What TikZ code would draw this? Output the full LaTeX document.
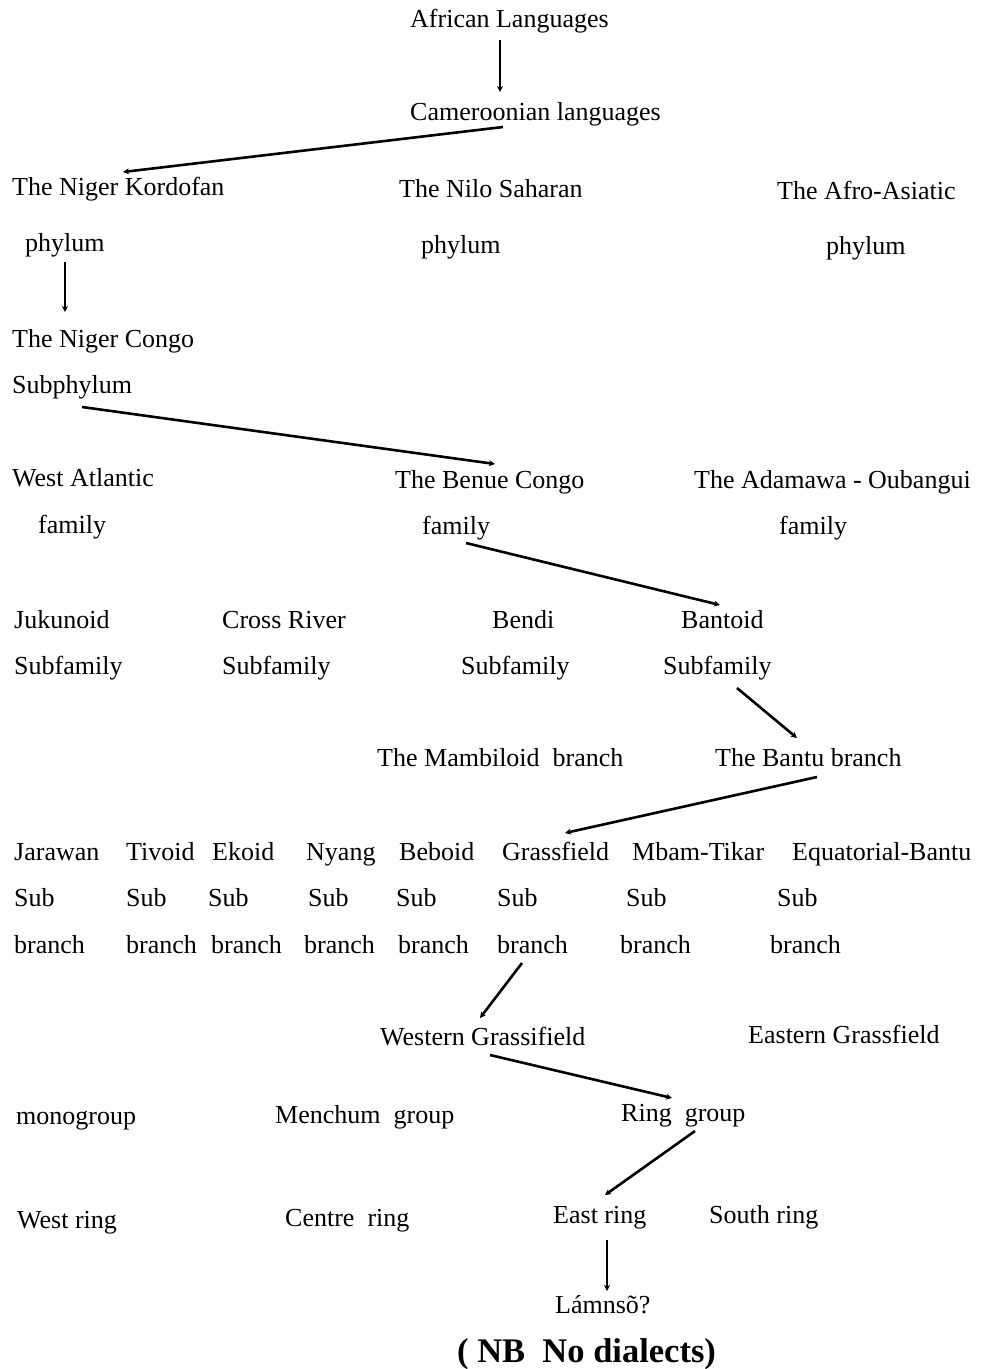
\documentclass[tikz,border=0pt]{standalone}
\usepackage{fontspec}
\setmainfont{Liberation Serif}
\usetikzlibrary{calc,arrows.meta}
\tikzset{
  lbl/.style={inner sep=0pt, anchor=base west, font=\fontsize{26bp}{30bp}\selectfont},
  nbstyle/.style={inner sep=0pt, anchor=base west, font=\fontsize{34.5bp}{40bp}\selectfont\bfseries},
  conn/.style={line width=2.6bp, -{Stealth[length=6bp,width=6bp]}}
}
\begin{document}
\begin{tikzpicture}[x=1bp,y=-1bp]
\useasboundingbox (0,0) rectangle (982,1369);
% level 1-2
\node[lbl] (afr) at (410,28) {African Languages};
\node[lbl] (cam) at (410,121) {Cameroonian languages};
% phyla
\node[lbl] (nk1) at (12,196) {The Niger Kordofan};
\node[lbl] (nk2) at (25,252) {phylum};
\node[lbl] (ns1) at (399,198) {The Nilo Saharan};
\node[lbl] (ns2) at (421,254) {phylum};
\node[lbl] (aa1) at (777,200) {The Afro-Asiatic};
\node[lbl] (aa2) at (826,255) {phylum};
% subphylum
\node[lbl] (nc1) at (12,347) {The Niger Congo};
\node[lbl] (nc2) at (12,393) {Subphylum};
% families
\node[lbl] (wa1) at (12,486) {West Atlantic};
\node[lbl] (wa2) at (38,533) {family};
\node[lbl] (bc1) at (395,488) {The Benue Congo};
\node[lbl] (bc2) at (422,534) {family};
\node[lbl] (ad1) at (694,488) {The Adamawa - Oubangui};
\node[lbl] (ad2) at (779,534) {family};
% subfamilies
\node[lbl] (ju1) at (14,628) {Jukunoid};
\node[lbl] (ju2) at (14,674) {Subfamily};
\node[lbl] (cr1) at (222,628) {Cross River};
\node[lbl] (cr2) at (222,674) {Subfamily};
\node[lbl] (be1) at (492,628) {Bendi};
\node[lbl] (be2) at (461,674) {Subfamily};
\node[lbl] (ba1) at (681,628) {Bantoid};
\node[lbl] (ba2) at (663,674) {Subfamily};
% branches
\node[lbl] (mam) at (377,766) {The Mambiloid\ \ branch};
\node[lbl] (bnt) at (715,766) {The Bantu branch};
% sub branches
\node[lbl] (r1) at (14,860) {Jarawan};
\node[lbl] (r2) at (126,860) {Tivoid};
\node[lbl] (r3) at (212,860) {Ekoid};
\node[lbl] (r4) at (306,860) {Nyang};
\node[lbl] (r5) at (399,860) {Beboid};
\node[lbl] (r6) at (502,860) {Grassfield};
\node[lbl] (r7) at (632,860) {Mbam-Tikar};
\node[lbl] (r8) at (792,860) {Equatorial-Bantu};
\node[lbl] (s1) at (14,906) {Sub};
\node[lbl] (s2) at (126,906) {Sub};
\node[lbl] (s3) at (208,906) {Sub};
\node[lbl] (s4) at (308,906) {Sub};
\node[lbl] (s5) at (396,906) {Sub};
\node[lbl] (s6) at (497,906) {Sub};
\node[lbl] (s7) at (626,906) {Sub};
\node[lbl] (s8) at (777,906) {Sub};
\node[lbl] (b1) at (14,953) {branch};
\node[lbl] (b2) at (126,953) {branch};
\node[lbl] (b3) at (211,953) {branch};
\node[lbl] (b4) at (304,953) {branch};
\node[lbl] (b5) at (398,953) {branch};
\node[lbl] (b6) at (497,953) {branch};
\node[lbl] (b7) at (620,953) {branch};
\node[lbl] (b8) at (770,953) {branch};
% grassfields
\node[lbl] (wg) at (380,1045) {Western Grassifield};
\node[lbl] (eg) at (748,1043) {Eastern Grassfield};
% groups
\node[lbl] (mono) at (16,1124) {monogroup};
\node[lbl] (menc) at (275,1123) {Menchum\ \ group};
\node[lbl] (ring) at (621,1121) {Ring\ \ group};
% rings
\node[lbl] (wr) at (17,1228) {West ring};
\node[lbl] (cen) at (285,1226) {Centre\ \ ring};
\node[lbl] (er) at (553,1223) {East ring};
\node[lbl] (sr) at (709,1223) {South ring};
\node[lbl] (lam) at (555,1313) {Lámnsõ?};
\node[nbstyle] (nb) at (457,1362) {( NB\ \ No dialects)};
% connectors
\draw[conn] ($(afr.base west)+(90,12)$) -- ($(cam.base west)+(90,-29)$);
\draw[conn] ($(cam.base west)+(93,6)$) -- ($(nk1.base west)+(111,-24)$);
\draw[conn] ($(nk2.base west)+(40,10)$) -- ($(nc1.base west)+(53,-35)$);
\draw[conn] ($(nc2.base west)+(70,14)$) -- ($(bc1.base west)+(100,-24)$);
\draw[conn] ($(bc2.base west)+(44,9)$) -- ($(ba1.base west)+(39,-23)$);
\draw[conn] ($(ba2.base west)+(74,14)$) -- ($(bnt.base west)+(82,-28)$);
\draw[conn] ($(bnt.base west)+(102,11)$) -- ($(r6.base west)+(63,-27)$);
\draw[conn] ($(b6.base west)+(25,10)$) -- ($(wg.base west)+(100,-27)$);
\draw[conn] ($(wg.base west)+(110,10)$) -- ($(ring.base west)+(51,-23)$);
\draw[conn] ($(ring.base west)+(74,10)$) -- ($(er.base west)+(52,-28)$);
\draw[conn] ($(er.base west)+(54,17)$) -- ($(lam.base west)+(52,-22)$);
\end{tikzpicture}
\end{document}
